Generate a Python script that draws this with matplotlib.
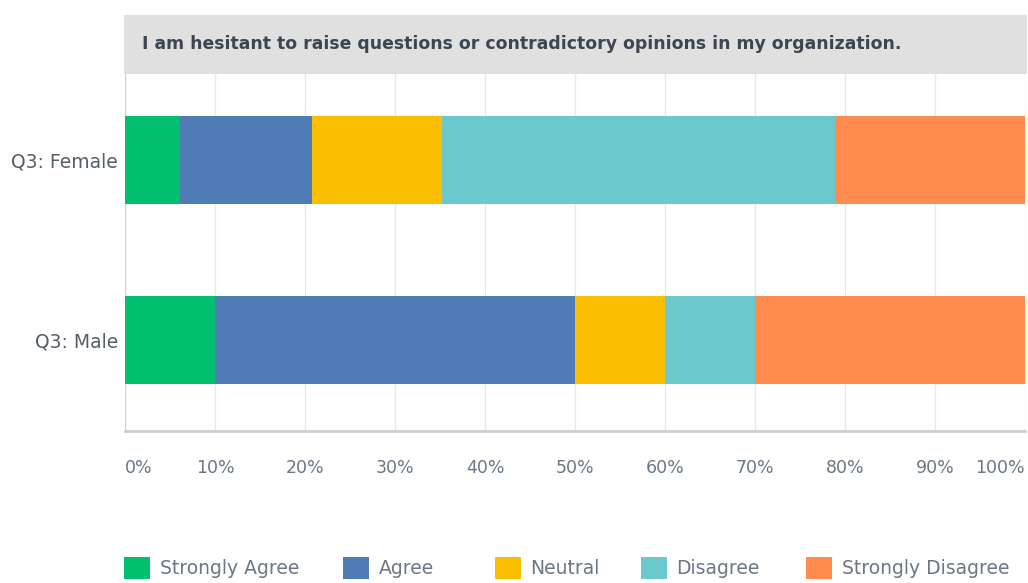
import numpy as np
import matplotlib.pyplot as plt
from matplotlib.patches import Rectangle, FancyBboxPatch

title = "I am hesitant to raise questions or contradictory opinions in my organization."
groups = ["Q3: Male", "Q3: Female"]
answers = ["Strongly Agree", "Agree", "Neutral", "Disagree", "Strongly Disagree"]
# percent of respondents, rows follow groups
male = [10.0, 40.0, 10.0, 10.0, 30.0]
female = [6.1, 14.7, 14.4, 43.7, 21.1]
colors = ["#00bf6f", "#507cb6", "#f9be00", "#6bc8cd", "#ff8b4f"]
ticks = [0, 10, 20, 30, 40, 50, 60, 70, 80, 90, 100]
legend_x = [124, 343, 495, 641, 806]   # pixel left edge of each legend swatch

data = np.array([male, female])

fig = plt.figure(figsize=(10.28, 5.83), dpi=100)
ax = fig.add_axes([125/1028, 152/583, 900/1028, 357/583])

y = np.arange(len(groups))
left = np.zeros(len(groups))
for i, name in enumerate(answers):
    ax.barh(y, data[:, i], left=left, height=0.494, color=colors[i], label=name, zorder=3)
    left += data[:, i]

ax.set_xlim(0, 100)
ax.set_ylim(-0.506, 1.478)
ax.set_xticks(ticks)
ax.set_xticklabels([f"{t}%" for t in ticks], color="#6b7785", fontsize=12.5)
labs = ax.get_xticklabels()
labs[0].set_horizontalalignment("left")
labs[-1].set_horizontalalignment("right")
ax.tick_params(axis="x", length=0, pad=20)
ax.set_yticks(y)
ax.set_yticklabels(groups, color="#555e68", fontsize=13.5)
ax.tick_params(axis="y", length=0, pad=5)
ax.grid(axis="x", color="#e8e8e8", linewidth=1, zorder=0)
for s in ["top", "right"]:
    ax.spines[s].set_visible(False)
ax.spines["left"].set_color("#d0d0d0")
ax.spines["bottom"].set_color("#cfcfcf")
ax.spines["bottom"].set_linewidth(2)

# title band
fig.patches.append(Rectangle((124/1028, (583-74)/583), 903/1028, 59/583,
                             transform=fig.transFigure, facecolor="#e0e0e0",
                             edgecolor="none"))
fig.text(142/1028, (583-44)/583, title, fontsize=12.4, fontweight="bold",
         color="#3d4550", va="center", ha="left")

# legend, one entry per legend so spacing follows the reference
for name, c, lx in zip(answers, colors, legend_x):
    h = FancyBboxPatch((0, 0), 1, 1, boxstyle="round,pad=0.1", facecolor=c, edgecolor="none")
    fig.legend([h], [name], loc="center left", bbox_to_anchor=(lx/1028, (583-568)/583),
               frameon=False, fontsize=13.5, labelcolor="#6b7785", borderpad=0,
               borderaxespad=0, handlelength=1.4, handleheight=1.4, handletextpad=0.5)

fig.savefig("out.png", dpi=100)
